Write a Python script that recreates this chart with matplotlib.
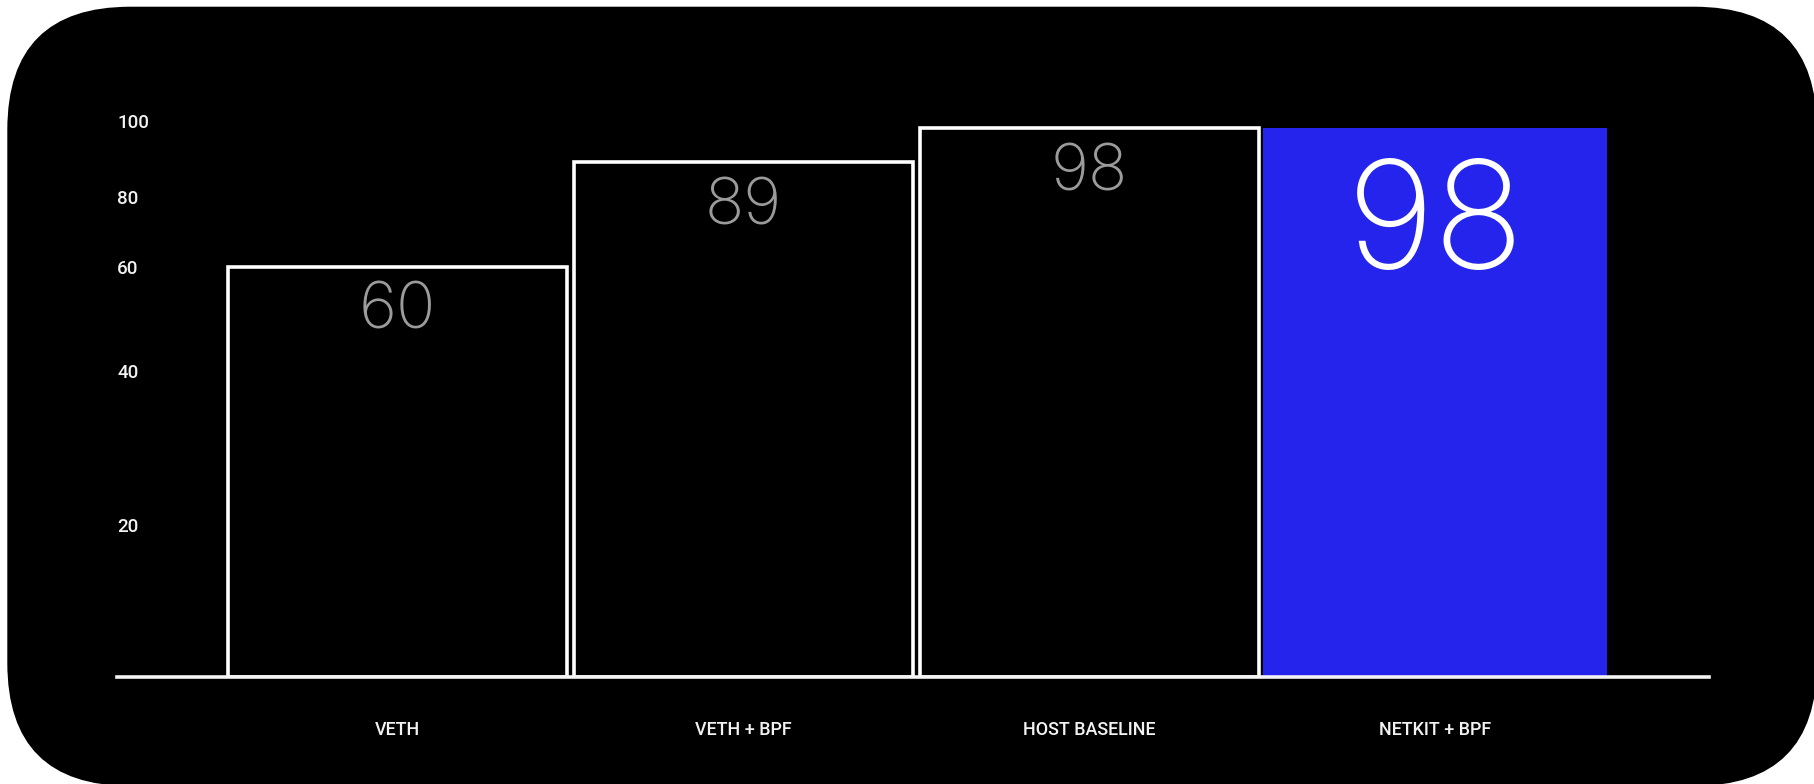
import numpy as np
import matplotlib
matplotlib.use('Agg')
import matplotlib.pyplot as plt
from matplotlib.patches import FancyBboxPatch

# chart data
categories = ['VETH', 'VETH + BPF', 'HOST BASELINE', 'NETKIT + BPF']
values = [60, 89, 98, 98]
y_ticks = [20, 40, 60, 80, 100]

# the source axis is not linear: value -> height (px) above the baseline
scale_values = [0, 20, 40, 60, 80, 100]
scale_heights = [0, 151.5, 305.5, 410, 480, 556]


def forward(v):
    return np.interp(v, scale_values, scale_heights)


def inverse(h):
    return np.interp(h, scale_heights, scale_values)


plt.rcParams['font.family'] = ['Roboto', 'DejaVu Sans']

W, H = 1814, 784
fig = plt.figure(figsize=(W / 100, H / 100), dpi=100, facecolor='white')

# black rounded card behind the chart
bg = fig.add_axes([0, 0, 1, 1])
bg.set_xlim(0, W)
bg.set_ylim(H, 0)
bg.axis('off')
bg.add_patch(FancyBboxPatch((7.3, 6.7), 1817 - 7.3, 786 - 6.7,
                            boxstyle='round,pad=0,rounding_size=123',
                            facecolor='black', edgecolor='none'))

ax = fig.add_axes([117.3 / W, (H - 676.5) / H, 1591.7 / W, 556 / H])
ax.set_facecolor('none')
ax.set_yscale('function', functions=(forward, inverse))
ax.set_ylim(0, 100)
ax.set_xlim(-0.8095, 3.7908)

x = np.arange(len(categories))
highlight = 3
num_font = ['Inter', 'DejaVu Sans']

for i, (xi, v) in enumerate(zip(x, values)):
    if i == highlight:
        ax.bar(xi, v, width=0.994, color='#2424ED', linewidth=0, zorder=3)
        ax.annotate(str(v), (xi, v), xytext=(0, -140.5), textcoords='offset pixels',
                    ha='center', va='baseline', fontsize=108, color='white',
                    family=num_font, fontweight='light', zorder=5)
    else:
        ax.bar(xi, v, width=0.978, facecolor='black', edgecolor='white',
               linewidth=2.6, zorder=3)
        ax.annotate(str(v), (xi, v), xytext=(0, -62), textcoords='offset pixels',
                    ha='center', va='baseline', fontsize=47, color='#9b9b9b',
                    family=num_font, fontweight='light', zorder=5)

for side in ['left', 'right', 'top']:
    ax.spines[side].set_visible(False)
ax.spines['bottom'].set_color('#f4f4f4')
ax.spines['bottom'].set_linewidth(2.6)
ax.spines['bottom'].set_zorder(4)

ax.set_yticks(y_ticks)
ax.set_yticklabels([str(t) for t in y_ticks], fontweight='medium')
ax.yaxis.set_minor_locator(matplotlib.ticker.NullLocator())
ax.tick_params(axis='y', length=0, pad=0, labelsize=13.5, labelcolor='#f2f2f2')
for lab in ax.get_yticklabels():
    lab.set_ha('left')

ax.set_xticks(x, categories, fontweight='medium')
ax.tick_params(axis='x', length=0, pad=32, labelsize=12.9, labelcolor='#f2f2f2')

fig.savefig('out.png', dpi=100, facecolor='white')
